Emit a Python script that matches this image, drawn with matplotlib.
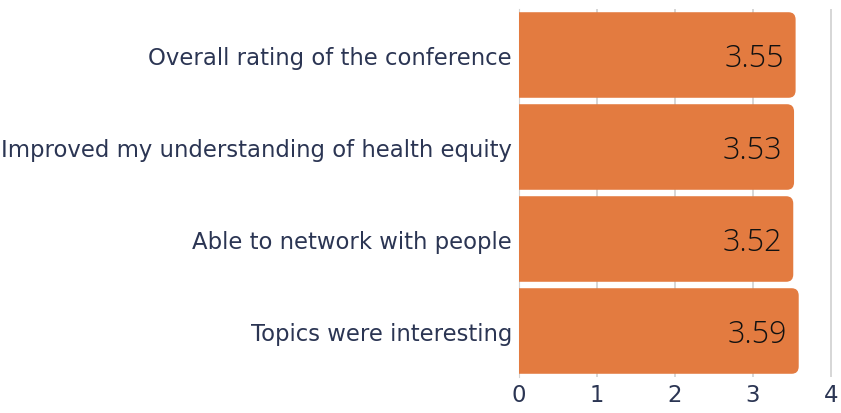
import matplotlib
matplotlib.use("Agg")
import matplotlib.pyplot as plt
from matplotlib.path import Path
from matplotlib.patches import PathPatch

# survey items, top to bottom
items = ["Overall rating of the conference",
         "Improved my understanding of health equity",
         "Able to network with people",
         "Topics were interesting"]
scores = [3.55, 3.53, 3.52, 3.59]
xticks = [0, 1, 2, 3, 4]

bar_col = "#E37B40"
txt_col = "#2B3553"
grid_col = "#D3D3D3"

fig = plt.figure(figsize=(8.41, 4.14), dpi=100)
ax = fig.add_axes([519/841, 1 - 378/414, (833 - 519)/841, (378 - 10)/414])

ypos = list(range(len(items)))
bars = ax.barh(ypos, scores, height=0.93, color=bar_col, zorder=3, linewidth=0)

# redraw each bar as one path with rounded right corners
rx, ry = 0.09, 0.08
for b in bars:
    x0, y0, w, h = b.get_x(), b.get_y(), b.get_width(), b.get_height()
    x1, y1 = x0 + w, y0 + h
    verts = [(x0, y0), (x1 - rx, y0), (x1, y0), (x1, y0 + ry),
             (x1, y1 - ry), (x1, y1), (x1 - rx, y1), (x0, y1), (x0, y0)]
    codes = [Path.MOVETO, Path.LINETO, Path.CURVE3, Path.CURVE3,
             Path.LINETO, Path.CURVE3, Path.CURVE3, Path.LINETO, Path.CLOSEPOLY]
    ax.add_patch(PathPatch(Path(verts, codes), facecolor=bar_col,
                           edgecolor="none", zorder=3))
    b.set_visible(False)

for y, v in zip(ypos, scores):
    ax.text(v - 0.15, y + 0.03, f"{v:.2f}", ha="right", va="center", fontsize=22,
            family="Open Sans", fontweight="light", color="#111111", zorder=4)

ax.set_xlim(0, 4.03)
ax.set_ylim(3.5, -0.5)
ax.set_xticks(xticks)
ax.set_yticks(ypos)
ax.set_yticklabels(items)
ax.xaxis.grid(True, color=grid_col, linewidth=1.3)
ax.set_axisbelow(True)
for s in ["top", "right", "bottom"]:
    ax.spines[s].set_visible(False)
ax.spines["left"].set_color(grid_col)
ax.tick_params(axis="both", length=0, colors=txt_col, labelsize=16.4)
ax.tick_params(axis="y", pad=5)
ax.tick_params(axis="x", pad=4)
for lab in ax.get_xticklabels() + ax.get_yticklabels():
    lab.set_family("DejaVu Sans")

fig.savefig("out.png", dpi=100)
